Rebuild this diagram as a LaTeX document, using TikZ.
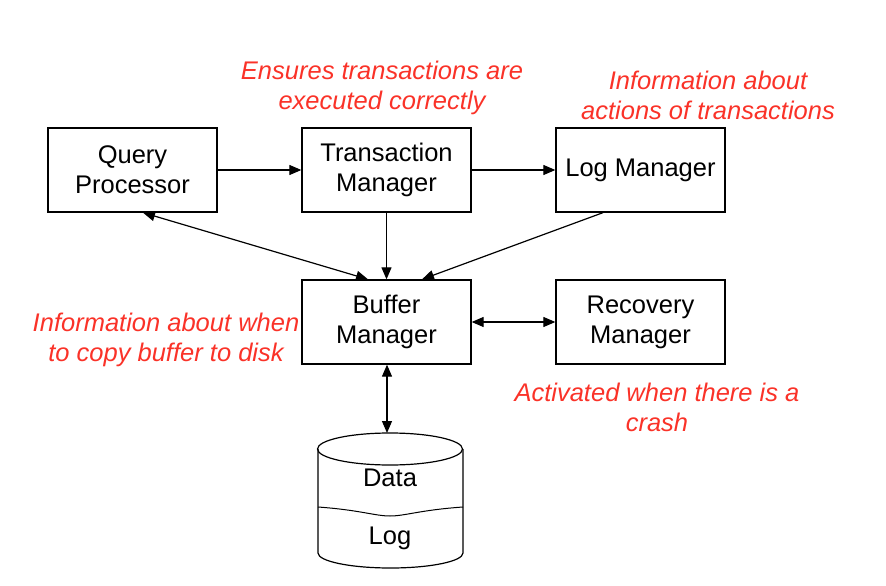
\documentclass[tikz,border=0pt]{standalone}
\usepackage{fontspec}
\setmainfont{Liberation Sans}
\usetikzlibrary{arrows.meta}
\definecolor{lbl}{RGB}{250,50,40}
\begin{document}
\begin{tikzpicture}[x=1pt,y=-1pt,
  box/.style={draw, line width=1.3pt, minimum width=169pt, minimum height=84pt, inner sep=0pt, align=center, font=\fontsize{25.5}{30}\selectfont},
  note/.style={text=lbl, align=center, font=\fontsize{25.5}{30}\selectfont\itshape, inner sep=0pt},
  conn/.style={line width=1.2pt, -{Triangle[length=12pt,width=10pt]}},
  conn2/.style={line width=1.2pt, {Triangle[length=12pt,width=10pt]}-{Triangle[length=12pt,width=10pt]}},
  cyl/.style={line width=1.2pt}]
\useasboundingbox (0,0) rectangle (886,586);
\node[box] (qp) at (132.5,170) {Query\\Processor};
\node[box] (tm) at (386.5,170) {Transaction\\Manager};
\node[box] (lm) at (640.5,170) {Log Manager};
\node[box] (bm) at (386.5,322) {Buffer\\Manager};
\node[box] (rm) at (640.5,322) {Recovery\\Manager};
% cylinder
\draw[cyl] (390,449) ellipse[x radius=72.5,y radius=16];
\draw[cyl] (318,449) -- (318,553) arc[start angle=180,end angle=0,x radius=72.5,y radius=15] -- (463,449);
\draw[line width=1pt] (318,507) .. controls (360,510) and (375,516) .. (390,516) .. controls (405,516) and (420,510) .. (463,507);
\coordinate (disktop) at (387,433);
\node[font=\fontsize{25.5}{30}\selectfont] (data) at (390,478) {Data};
\node[font=\fontsize{25.5}{30}\selectfont] (log) at (390,538) {Log};
% connectors
\draw[conn] (qp.east) -- (tm.west);
\draw[conn] (tm.east) -- (lm.west);
\draw[conn] (tm.south) -- (bm.north);
\draw[conn2] ([xshift=10.5pt]qp.south) -- ([xshift=-18.5pt]bm.north);
\draw[conn] ([xshift=-37.5pt]lm.south) -- ([xshift=35.5pt]bm.north);
\draw[conn2] (bm.east) -- (rm.west);
\draw[conn2] ([xshift=0.5pt]bm.south) -- (disktop);
% notes
\node[note] (n1) at (382,88) {Ensures transactions are\\executed correctly};
\node[note] (n2) at (708,95) {Information about\\actions of transactions};
\node[note] (n3) at (166,340) {Information about when\\to copy buffer to disk};
\node[note] (n4) at (657,407) {Activated when there is a\\crash};
\end{tikzpicture}
\end{document}
